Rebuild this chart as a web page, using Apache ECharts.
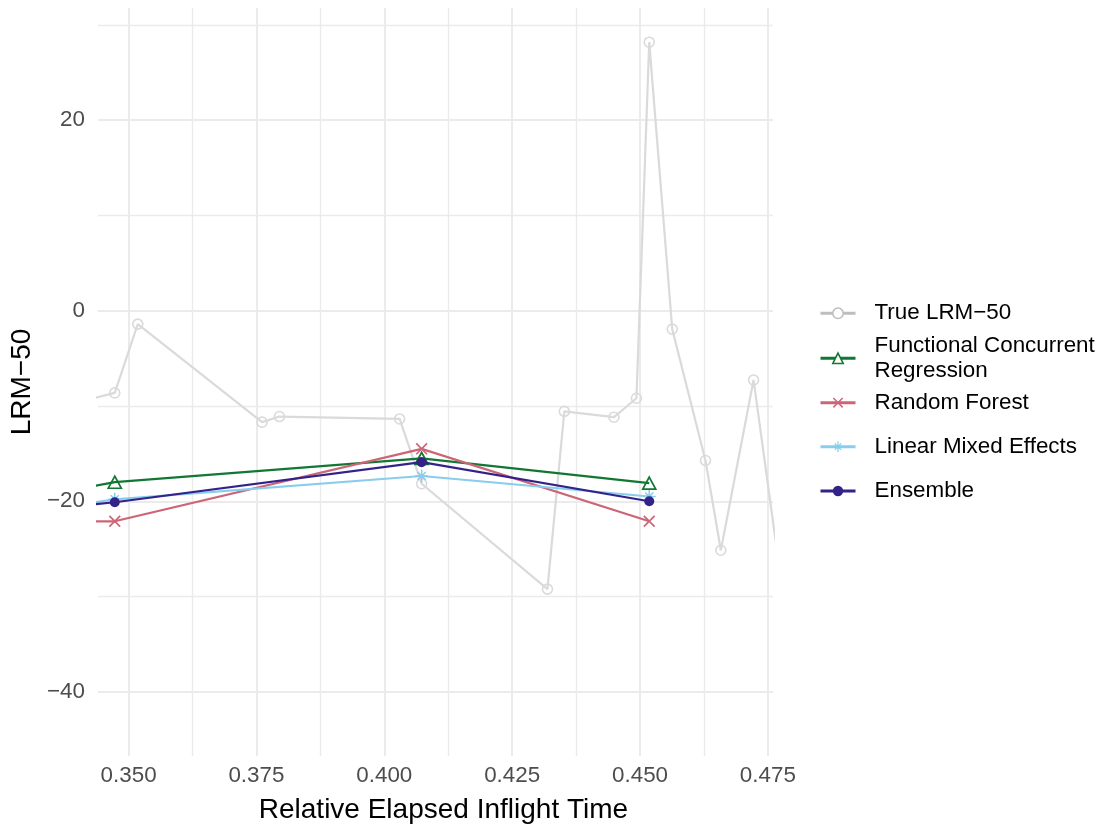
<!DOCTYPE html>
<html>
<head>
<meta charset="utf-8">
<script src="https://cdn.jsdelivr.net/npm/echarts@6/dist/echarts.min.js"></script>
<style>
  html, body { margin: 0; padding: 0; background: #ffffff; }
  #chart { width: 1104px; height: 829px; }
</style>
</head>
<body>
<div id="chart"></div>
<script>
// Observed LRM-50 trace (relative elapsed inflight time, value)
const trueTime = [0.3400, 0.3473, 0.3518, 0.3761, 0.3795, 0.4030, 0.4073, 0.4319, 0.4352,
                  0.4449, 0.4493, 0.4518, 0.4563, 0.4628, 0.4658, 0.4722, 0.4775];
const trueLRM  = [-9.6, -8.63, -1.41, -11.70, -11.11, -11.36, -18.16, -29.22, -10.57,
                  -11.18, -9.19, 28.17, -1.94, -15.72, -25.14, -7.27, -28.0];

// Model predictions at the evaluation times
const predTime = [0.3400, 0.3473, 0.4073, 0.4518];
const fcrPred  = [-18.7, -18.0, -15.5, -18.1];
const rfPred   = [-22.1, -22.1, -14.5, -22.1];
const lmePred  = [-20.4, -19.8, -17.35, -19.5];
const ensPred  = [-20.5, -20.1, -15.9, -20.0];

// Axis breaks
const xBreaks = [0.35, 0.375, 0.4, 0.425, 0.45, 0.475];
const xMinorBreaks = [0.3625, 0.3875, 0.4125, 0.4375, 0.4625];
const yBreaks = [-40, -20, 0, 20];
const yMinorBreaks = [-30, -10, 10, 30];

const FONT = '"Liberation Sans", Arial, Helvetica, sans-serif';
const GRID_COLOR = '#EBEBEB';

const zip = (xs, ys) => xs.map((x, i) => [x, ys[i]]);
const minusFmt = v => (v < 0 ? '\u2212' + Math.abs(v) : String(v));

// Glyphs for the cross and asterisk markers
const crossPath = 'path://M0,1.2L1.2,0L12,10.8L10.8,12Z M10.8,0L12,1.2L1.2,12L0,10.8Z';
const starPath = 'path://M5.3,0L6.7,0L6.7,12L5.3,12Z M0,6.7L0,5.3L12,5.3L12,6.7Z ' +
                 'M1.76,2.76L2.76,1.76L10.24,9.24L9.24,10.24Z M9.24,1.76L10.24,2.76L2.76,10.24L1.76,9.24Z';

const MAJOR_W = 2;
const MINOR_W = 1.4;
const gridLines = [
  ...xBreaks.map(v => ({ xAxis: v, lineStyle: { width: MAJOR_W, color: GRID_COLOR, type: 'solid' } })),
  ...xMinorBreaks.map(v => ({ xAxis: v, lineStyle: { width: MINOR_W, color: GRID_COLOR, type: 'solid' } })),
  ...yBreaks.map(v => ({ yAxis: v, lineStyle: { width: MAJOR_W, color: GRID_COLOR, type: 'solid' } })),
  ...yMinorBreaks.map(v => ({ yAxis: v, lineStyle: { width: MINOR_W, color: GRID_COLOR, type: 'solid' } }))
];

const COLORS = {
  truth: '#DADADA',
  truthKey: '#BEBEBE',
  fcr: '#117733',
  rf: '#CC6677',
  lme: '#88CCEE',
  ens: '#332288'
};

const NAMES = {
  truth: 'True LRM\u221250',
  fcr: 'Functional Concurrent Regression',
  rf: 'Random Forest',
  lme: 'Linear Mixed Effects',
  ens: 'Ensemble'
};

const LEG_LINE_H = 25.8;
function legendBlock(name, centerY, lines, styleOverride) {
  const item = Object.assign({ name: name }, styleOverride || {});
  return {
    data: [item],
    orient: 'vertical',
    left: 819,
    top: centerY - (lines * LEG_LINE_H) / 2,
    padding: 0,
    itemWidth: 35,
    itemHeight: 13,
    lineStyle: { width: 3 },
    selectedMode: false,
    formatter: n => (n === NAMES.fcr ? 'Functional Concurrent\nRegression' : n),
    textStyle: {
      fontFamily: FONT, fontSize: 22.4, color: '#000000',
      lineHeight: LEG_LINE_H, padding: [2, 0, 0, 14]
    }
  };
}

const chart = echarts.init(document.getElementById('chart'), null, { renderer: 'canvas' });

chart.setOption({
  animation: false,
  backgroundColor: '#ffffff',
  grid: { left: 97, right: 331, top: 8, bottom: 71, containLabel: false },
  xAxis: {
    type: 'value',
    min: 0.344,
    max: 0.476,
    axisLine: { show: false },
    axisTick: { show: false },
    splitLine: { show: false },
    axisLabel: {
      customValues: xBreaks,
      formatter: v => v.toFixed(3),
      color: '#4D4D4D', fontFamily: FONT, fontSize: 22.4, margin: 9
    },
    name: 'Relative Elapsed Inflight Time',
    nameLocation: 'middle',
    nameGap: 40,
    nameTextStyle: { fontFamily: FONT, fontSize: 28, color: '#000000', padding: [0, 0, 0, 16] }
  },
  yAxis: {
    type: 'value',
    min: -46.73,
    max: 31.76,
    axisLine: { show: false },
    axisTick: { show: false },
    splitLine: { show: false },
    axisLabel: {
      customValues: yBreaks,
      formatter: minusFmt,
      color: '#4D4D4D', fontFamily: FONT, fontSize: 22.4, margin: 13,
      padding: [4, 0, 0, 0]
    },
    name: 'LRM\u221250',
    nameLocation: 'middle',
    nameGap: 54,
    nameTextStyle: { fontFamily: FONT, fontSize: 28, color: '#000000' }
  },
  legend: [
    legendBlock(NAMES.truth, 312.3, 1, {
      itemStyle: { color: '#ffffff', borderColor: COLORS.truthKey, borderWidth: 1.5 },
      lineStyle: { color: COLORS.truthKey, width: 3 }
    }),
    legendBlock(NAMES.fcr, 357.3, 2, {
      itemStyle: { color: '#ffffff', borderColor: COLORS.fcr, borderWidth: 1.6 }
    }),
    legendBlock(NAMES.rf, 401.7, 1),
    legendBlock(NAMES.lme, 445.7, 1),
    legendBlock(NAMES.ens, 490, 1)
  ],
  series: [
    {
      // panel grid
      type: 'line',
      name: '__grid',
      data: [],
      silent: true,
      z: 0,
      markLine: {
        z: 0,
        silent: true,
        animation: false,
        precision: 6,
        symbol: ['none', 'none'],
        label: { show: false },
        emphasis: { disabled: true },
        data: gridLines
      }
    },
    {
      type: 'line',
      name: NAMES.truth,
      data: zip(trueTime, trueLRM),
      z: 2,
      symbol: 'circle',
      symbolSize: 10,
      lineStyle: { color: COLORS.truth, width: 2.2 },
      itemStyle: { color: 'rgba(255,255,255,0)', borderColor: COLORS.truth, borderWidth: 1.6 },
      emphasis: { disabled: true }
    },
    {
      type: 'line',
      name: NAMES.fcr,
      data: zip(predTime, fcrPred),
      z: 3,
      symbol: 'triangle',
      symbolSize: [13, 12],
      lineStyle: { color: COLORS.fcr, width: 2.2 },
      itemStyle: { color: 'rgba(255,255,255,0)', borderColor: COLORS.fcr, borderWidth: 1.7 },
      emphasis: { disabled: true }
    },
    {
      type: 'line',
      name: NAMES.rf,
      data: zip(predTime, rfPred),
      z: 4,
      symbol: crossPath,
      symbolSize: 12,
      lineStyle: { color: COLORS.rf, width: 2.2 },
      itemStyle: { color: COLORS.rf },
      emphasis: { disabled: true }
    },
    {
      type: 'line',
      name: NAMES.lme,
      data: zip(predTime, lmePred),
      z: 5,
      symbol: starPath,
      symbolSize: 13,
      lineStyle: { color: COLORS.lme, width: 2.2 },
      itemStyle: { color: COLORS.lme },
      emphasis: { disabled: true }
    },
    {
      type: 'line',
      name: NAMES.ens,
      data: zip(predTime, ensPred),
      z: 6,
      symbol: 'circle',
      symbolSize: 10,
      lineStyle: { color: COLORS.ens, width: 2.2 },
      itemStyle: { color: COLORS.ens },
      emphasis: { disabled: true }
    }
  ]
});
</script>
</body>
</html>
